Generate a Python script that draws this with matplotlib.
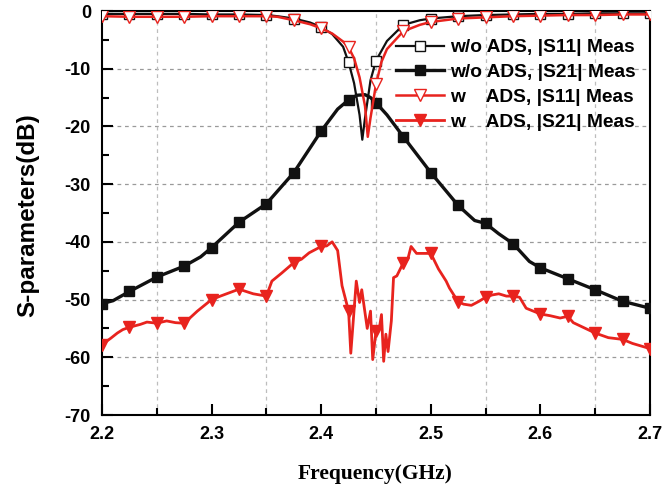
import numpy as np
import matplotlib
matplotlib.use('Agg')
import matplotlib.pyplot as plt
from matplotlib.lines import Line2D

plt.rcParams['axes.unicode_minus'] = False

# w/o ADS, |S11|
f_s11_wo = [2.2, 2.225, 2.25, 2.275, 2.3, 2.325, 2.35, 2.36, 2.375, 2.39, 2.4, 2.41, 2.42,
            2.425, 2.43, 2.435, 2.4375, 2.44, 2.445, 2.45, 2.46, 2.475, 2.49, 2.5, 2.525,
            2.55, 2.575, 2.6, 2.625, 2.65, 2.675, 2.7]
s11_wo = [-0.5, -0.5, -0.5, -0.5, -0.6, -0.6, -0.7, -0.9, -1.3, -2.0, -2.8, -4.0, -6.2,
          -8.9, -12.5, -18.0, -22.3, -18.5, -12.0, -8.6, -5.2, -2.4, -1.6, -1.3, -0.9,
          -0.7, -0.6, -0.5, -0.5, -0.4, -0.4, -0.4]

# w/o ADS, |S21|
f_s21_wo = [2.2, 2.21, 2.225, 2.25, 2.275, 2.29, 2.3, 2.325, 2.35, 2.375, 2.4, 2.415, 2.425,
            2.4325, 2.44, 2.445, 2.45, 2.46, 2.475, 2.5, 2.525, 2.54, 2.55, 2.562, 2.575,
            2.59, 2.6, 2.625, 2.65, 2.675, 2.7]
s21_wo = [-50.7, -50.2, -48.6, -46.1, -44.2, -42.6, -41.0, -36.6, -33.4, -28.0, -20.8, -17.0,
          -15.4, -14.6, -14.5, -15.0, -15.9, -18.0, -21.8, -28.0, -33.7, -36.3, -36.8, -38.6,
          -40.3, -43.4, -44.5, -46.4, -48.3, -50.3, -51.5]

# w ADS, |S11|
f_s11_w = [2.2, 2.225, 2.25, 2.275, 2.3, 2.325, 2.35, 2.36, 2.375, 2.39, 2.4, 2.41, 2.42,
           2.425, 2.43, 2.435, 2.44, 2.4425, 2.445, 2.45, 2.455, 2.46, 2.475, 2.49, 2.5,
           2.525, 2.55, 2.575, 2.6, 2.625, 2.65, 2.675, 2.7]
s11_w = [-0.9, -1.0, -1.0, -1.0, -0.9, -0.9, -0.9, -1.0, -1.6, -2.3, -3.0, -3.9, -5.3,
         -6.3, -8.2, -11.5, -16.5, -21.8, -18.5, -12.7, -8.8, -6.6, -3.5, -2.4, -1.9,
         -1.3, -1.1, -0.9, -0.8, -0.7, -0.7, -0.6, -0.6]

# w ADS, |S21|
f_s21_w = [2.2, 2.208, 2.214, 2.219, 2.225, 2.235, 2.241, 2.25, 2.259, 2.267, 2.275, 2.287,
           2.3, 2.308, 2.325, 2.338, 2.35, 2.355, 2.364, 2.375, 2.382, 2.389, 2.4, 2.405,
           2.41, 2.415, 2.419, 2.425, 2.427, 2.432, 2.435, 2.437, 2.442, 2.445, 2.447, 2.45,
           2.453, 2.455, 2.457, 2.459, 2.461, 2.464, 2.466, 2.469, 2.475, 2.479, 2.482,
           2.487, 2.5, 2.507, 2.514, 2.517, 2.525, 2.53, 2.537, 2.544, 2.55, 2.556, 2.562,
           2.569, 2.575, 2.581, 2.587, 2.6, 2.609, 2.618, 2.625, 2.63, 2.65, 2.662, 2.675,
           2.684, 2.7]
s21_w = [-57.8, -56.7, -55.8, -55.2, -54.8, -54.3, -53.9, -54.1, -53.7, -54.0, -54.1, -52.0,
         -50.0, -49.4, -48.2, -49.0, -49.4, -46.8, -45.4, -43.6, -43.0, -41.9, -40.8, -40.7,
         -40.0, -41.5, -47.6, -52.0, -59.3, -46.8, -50.5, -48.3, -55.0, -52.0, -60.4, -55.5,
         -55.0, -52.6, -60.7, -56.0, -59.0, -53.7, -46.2, -45.9, -43.6, -43.0, -40.8,
         -42.0, -42.0, -44.7, -46.8, -48.0, -50.4, -50.8, -51.0, -50.3, -49.6, -49.2, -49.0,
         -49.4, -49.4, -49.6, -51.5, -52.5, -52.8, -53.2, -52.9, -54.0, -55.8, -56.6, -56.9,
         -57.6, -58.5]

labels = ['w/o ADS, |S11| Meas', 'w/o ADS, |S21| Meas',
          'w    ADS, |S11| Meas', 'w    ADS, |S21| Meas']

red = '#e8231e'
blk = '#111111'


def marks(f):
    # symbols every 0.025 GHz
    f = np.asarray(f)
    k = np.round((f - 2.2) / 0.025)
    return list(np.isclose(2.2 + k * 0.025, f, atol=1e-6))


fig = plt.figure(figsize=(6.64, 4.91), dpi=100)
ax = fig.add_axes([102 / 664, 1 - 415 / 491, 548 / 664, 404 / 491])

styles = [
    (f_s11_wo, s11_wo, dict(color=blk, lw=1.6, marker='s', ms=6.5, mfc='white', mec=blk, mew=1.0)),
    (f_s21_wo, s21_wo, dict(color=blk, lw=2.4, marker='s', ms=6.5, mfc=blk, mec=blk)),
    (f_s11_w, s11_w, dict(color=red, lw=1.8, marker='v', ms=8.5, mfc='white', mec=red, mew=1.0)),
    (f_s21_w, s21_w, dict(color=red, lw=2.0, marker='v', ms=8.5, mfc=red, mec=red)),
]

handles = []
for (f, v, st), lab in zip(styles, labels):
    ax.plot(f, v, markevery=marks(f), zorder=3, **st)
    handles.append(Line2D([], [], label=lab, **st))

ax.set_xlim(2.2, 2.7)
ax.set_ylim(-70, 0)
ax.set_xticks(np.arange(2.2, 2.71, 0.1))
ax.set_xticks(np.arange(2.25, 2.7, 0.1), minor=True)
ax.set_yticks(np.arange(-70, 1, 10))
ax.set_yticks(np.arange(-65, 0, 10), minor=True)
ax.set_xticklabels(['2.2', '2.3', '2.4', '2.5', '2.6', '2.7'])

for y in range(-60, 0, 10):
    ax.axhline(y, color='#9a9a9a', lw=0.9, ls=(0, (3, 3)), zorder=1)
for x in np.arange(2.25, 2.7, 0.1):
    ax.axvline(x, color='#bdbdbd', lw=0.9, ls=(0, (3, 3)), zorder=1)

ax.tick_params(which='both', direction='in', top=False, right=False, width=1.5)
ax.tick_params(which='major', length=8, pad=8)
ax.tick_params(which='minor', length=5)
for lab in ax.get_xticklabels() + ax.get_yticklabels():
    lab.set_fontfamily('Liberation Sans')
    lab.set_fontweight('bold')
    lab.set_fontsize(13)
for sp in ax.spines.values():
    sp.set_linewidth(1.5)

fig.text(375 / 664, 1 - 474 / 491, 'Frequency(GHz)', ha='center', va='center',
         family='Liberation Serif', weight='bold', size=15.5)
fig.text(28 / 664, 1 - 215 / 491, 'S-parameters(dB)', ha='center', va='center',
         rotation=90, family='Liberation Sans', weight='bold', size=17.5)

leg = ax.legend(handles=handles, loc='upper left', bbox_to_anchor=(396 / 664, 1 - 39 / 491),
                bbox_transform=fig.transFigure, frameon=False, borderpad=0, borderaxespad=0,
                handlelength=2.5, handletextpad=0.3, labelspacing=0.38, numpoints=1,
                prop=dict(family='Liberation Sans', weight='bold', size=13.8))

fig.savefig('out.png', dpi=100)
